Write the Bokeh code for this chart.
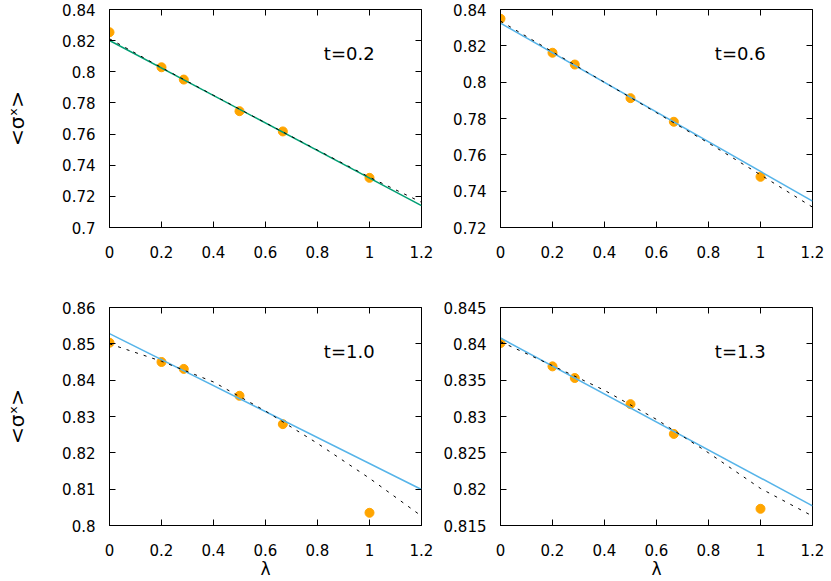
from bokeh.plotting import figure
from bokeh.layouts import column, row
from bokeh.models import (Range1d, FixedTicker, LinearAxis, CustomJSTickFormatter,
                          Label, ColumnDataSource)
from bokeh.embed import file_html
from bokeh.resources import INLINE

# ---------------- data ----------------
lam = [0.0, 0.2, 0.2857, 0.5, 0.6667, 1.0]

sx_t02 = [0.8254, 0.8029, 0.7950, 0.7747, 0.7617, 0.7319]
sx_t06 = [0.8349, 0.8162, 0.8097, 0.7912, 0.7782, 0.7479]
sx_t10 = [0.8503, 0.8450, 0.8431, 0.8357, 0.8279, 0.8035]
sx_t13 = [0.8401, 0.8369, 0.8353, 0.8317, 0.8276, 0.8173]

fit_lam = [0.0, 1.2]
lin_t02 = [0.8201, 0.7141]
lin_t06 = [0.8325, 0.7345]
lin_t10 = [0.8528, 0.8099]
lin_t13 = [0.8408, 0.8177]

curve_lam = [0.0, 0.2, 0.4, 0.6, 0.8, 1.0, 1.2]
quad_t02 = [0.8212, 0.8027, 0.7849, 0.7672, 0.7497, 0.7323, 0.7162]
quad_t06 = [0.8336, 0.8167, 0.7999, 0.7832, 0.7665, 0.7490, 0.7312]
quad_t10 = [0.8500, 0.8452, 0.8395, 0.8315, 0.8226, 0.8130, 0.8026]
quad_t13 = [0.8403, 0.8370, 0.8336, 0.8296, 0.8250, 0.8201, 0.8163]

x_ticks = [0, 0.2, 0.4, 0.6, 0.8, 1.0, 1.2]
y_ticks_t02 = [0.70, 0.72, 0.74, 0.76, 0.78, 0.80, 0.82, 0.84]
y_ticks_t06 = [0.72, 0.74, 0.76, 0.78, 0.80, 0.82, 0.84]
y_ticks_t10 = [0.80, 0.81, 0.82, 0.83, 0.84, 0.85, 0.86]
y_ticks_t13 = [0.815, 0.82, 0.825, 0.83, 0.835, 0.84, 0.845]

t_labels = ["t=0.2", "t=0.6", "t=1.0", "t=1.3"]
x_label = "λ"
y_label = "<σˣ>"

# ---------------- styling ----------------
FONT = "DejaVu Sans"
ORANGE = "#FFA500"
GREEN = "#009E73"
BLUE = "#56B4E9"

fmt_code = "return String(parseFloat(tick.toFixed(4)));"


def make_panel(pts, lin, quad, yticks, label, color, ylab, xlab,
               width, height, bl, br, bt, bb):
    ymin, ymax = yticks[0], yticks[-1]
    p = figure(width=width, height=height, output_backend="svg",
               toolbar_location=None,
               x_range=Range1d(0, 1.2), y_range=Range1d(ymin, ymax),
               min_border_left=bl, min_border_right=br,
               min_border_top=bt, min_border_bottom=bb)
    p.xgrid.visible = False
    p.ygrid.visible = False
    p.outline_line_color = "black"
    p.outline_line_width = 1
    p.outline_line_alpha = 1
    p.background_fill_color = "white"
    p.border_fill_color = "white"

    for ax, ticks in ((p.xaxis[0], x_ticks), (p.yaxis[0], yticks)):
        ax.ticker = FixedTicker(ticks=ticks)
        ax.formatter = CustomJSTickFormatter(code=fmt_code)
        ax.major_tick_in = 6
        ax.major_tick_out = 0
        ax.minor_tick_line_color = None
        ax.major_tick_line_color = "black"
        ax.axis_line_color = "black"
        ax.major_label_text_font = FONT
        ax.major_label_text_font_size = "15px"
        ax.major_label_text_color = "black"
    p.xaxis[0].major_label_standoff = 18
    p.yaxis[0].major_label_standoff = 14

    if ylab:
        ya = p.yaxis[0]
        ya.axis_label = y_label
        ya.axis_label_text_font = FONT
        ya.axis_label_text_font_size = "20px"
        ya.axis_label_text_font_style = "normal"
        ya.axis_label_text_color = "black"
        ya.axis_label_standoff = 30
    if xlab:
        xa = p.xaxis[0]
        xa.axis_label = x_label
        xa.axis_label_text_font = FONT
        xa.axis_label_text_font_size = "17px"
        xa.axis_label_text_font_style = "normal"
        xa.axis_label_text_color = "black"
        xa.axis_label_standoff = 0

    # mirrored ticks on top and right
    for loc, ticks in (("above", x_ticks), ("right", yticks)):
        ax = LinearAxis(ticker=FixedTicker(ticks=ticks),
                        formatter=CustomJSTickFormatter(code="return '';"),
                        major_tick_in=6, major_tick_out=0,
                        major_label_standoff=0,
                        major_label_text_font_size="1px",
                        minor_tick_line_color=None,
                        axis_line_color=None)
        p.add_layout(ax, loc)

    src = ColumnDataSource(dict(x=lam, y=pts))
    p.scatter("x", "y", source=src, size=9, color=ORANGE, line_color=ORANGE)
    p.line(fit_lam, lin, line_color=color, line_width=1.5)
    p.line(curve_lam, quad, line_color="black", line_width=1,
           line_dash="3 6")

    frac = 0.80
    p.add_layout(Label(x=0.922, y=ymin + frac * (ymax - ymin), text=label,
                       text_font=FONT, text_font_size="18px",
                       text_color="black", text_baseline="alphabetic",
                       text_align="center"))
    return p


p1 = make_panel(sx_t02, lin_t02, quad_t02, y_ticks_t02, t_labels[0], GREEN,
                True, False, 436, 270, 109, 15, 9, 43)
p2 = make_panel(sx_t06, lin_t06, quad_t06, y_ticks_t06, t_labels[1], BLUE,
                False, False, 395, 270, 64, 19, 9, 43)
p3 = make_panel(sx_t10, lin_t10, quad_t10, y_ticks_t10, t_labels[2], BLUE,
                True, True, 436, 311, 109, 15, 37, 56)
p4 = make_panel(sx_t13, lin_t13, quad_t13, y_ticks_t13, t_labels[3], BLUE,
                False, True, 395, 311, 64, 19, 37, 56)

layout = column(row(p1, p2), row(p3, p4))

open("out.html", "w").write(file_html(layout, INLINE))
